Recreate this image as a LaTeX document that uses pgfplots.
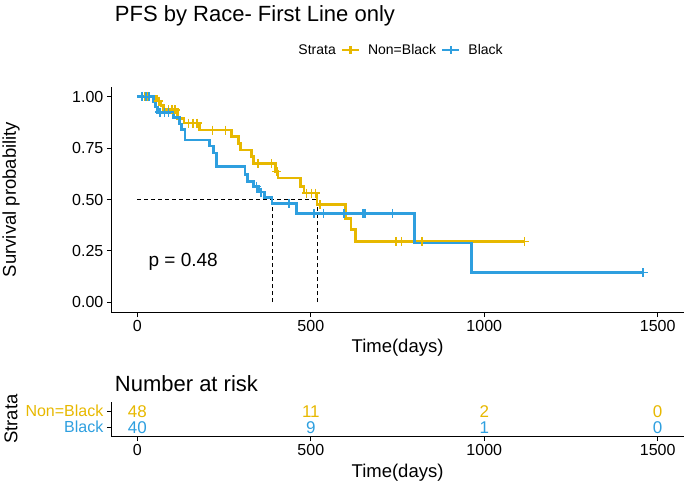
\documentclass[border=0pt]{standalone}
\usepackage{fontspec}
\setmainfont{Liberation Sans}
\usepackage{pgfplots}
\pgfplotsset{compat=1.18}
\definecolor{byellow}{HTML}{E7B800}
\definecolor{bblue}{HTML}{2E9FDF}
\newcommand{\fsz}[1]{\fontsize{#1}{#1}\selectfont}

\pgfplotsset{
  kmbase/.style={
    scale only axis, width=572.3pt,
    xmin=-75, xmax=1575,
    axis x line*=bottom, axis y line*=left,
    axis line style={line width=1.1pt, black},
    tick align=outside, major tick length=4.5pt,
    tick style={line width=1.1pt, black},
    xtick={0,500,1000,1500},
    ticklabel style={font=\fsz{16}},
    /pgf/number format/assume math mode=true,
    /pgf/number format/1000 sep={},
    scaled ticks=false,
    label style={font=\fsz{18.5}},
  },
  km/.style={const plot, mark=none, line width=2.7pt, forget plot},
  cens/.style={only marks, mark=+, mark size=4.5pt, line width=1.6pt, forget plot},
}

\begin{document}
\begin{tikzpicture}
\useasboundingbox (0,0) rectangle (685pt,-484pt);

\node[anchor=base west, font=\fsz{22}] at (111.4pt,-22pt) {PFS by Race- First Line only};

% survival curves
\begin{axis}[kmbase,
  at={(111.4pt,-312.5pt)}, anchor=south west, height=226pt,
  ymin=-0.05, ymax=1.05,
  ytick={0,0.25,0.5,0.75,1}, yticklabels={0.00,0.25,0.50,0.75,1.00},
  xlabel={Time(days)}, ylabel={Survival probability},
  xlabel style={at={(axis description cs:0.5,-0.157)}, anchor=center},
  ylabel style={at={(axis description cs:-0.1754,0.5)}, anchor=center},
  legend style={at={(0.5,1.1615)}, anchor=center, draw=none, fill=none,
    legend columns=-1, font=\fsz{14},
    /tikz/every even column/.append style={column sep=3pt},
    /tikz/every odd column/.append style={column sep=6pt}},
]
\addlegendimage{empty legend}
\addlegendentry{Strata\hspace{6pt}}
\addlegendimage{byellow, line width=2.2pt, mark=+, mark size=4pt}
\addlegendentry{Non=Black}
\addlegendimage{bblue, line width=2.2pt, mark=+, mark size=4pt}
\addlegendentry{Black}

% median lines
\addplot[black, line width=0.8pt, dash pattern=on 4pt off 3pt, forget plot]
  coordinates {(0,0.5) (518,0.5)};
\addplot[black, line width=0.8pt, dash pattern=on 4pt off 3pt, forget plot]
  coordinates {(388,0) (388,0.5)};
\addplot[black, line width=0.8pt, dash pattern=on 4pt off 3pt, forget plot]
  coordinates {(518,0) (518,0.5)};

% Non=Black
\addplot[km, byellow] coordinates {
  (0,1) (55,0.979) (68,0.958) (75,0.937) (115,0.895) (134,0.872)
  (178,0.838) (272,0.806) (291,0.773) (297,0.741) (329,0.709)
  (335,0.676) (399,0.636) (405,0.604) (471,0.563) (480,0.531)
  (518,0.474) (600,0.409) (616,0.353) (628,0.296) (1116,0.296)};
\addplot[cens, byellow] coordinates {
  (14,1) (22,1) (30,1) (62,0.979) (90,0.937) (100,0.937) (109,0.937)
  (147,0.872) (160,0.872) (172,0.872) (216,0.838) (254,0.838)
  (348,0.676) (386,0.676) (402,0.636) (487,0.531) (502,0.531)
  (514,0.531) (527,0.474) (745,0.296) (761,0.296) (820,0.296)
  (1116,0.296)};

% Black
\addplot[km, bblue] coordinates {
  (0,1) (46,0.975) (52,0.95) (58,0.925) (105,0.898) (121,0.868)
  (128,0.84) (137,0.79) (208,0.76) (220,0.727) (229,0.662)
  (310,0.621) (318,0.588) (335,0.564) (349,0.536) (366,0.51)
  (388,0.482) (459,0.432) (798,0.288) (964,0.144) (1458,0.144)};
\addplot[cens, bblue] coordinates {
  (14,1) (25,1) (33,1) (65,0.925) (78,0.925) (90,0.925)
  (343,0.564) (356,0.536) (437,0.482) (509,0.432) (537,0.432)
  (596,0.432) (650,0.432) (657,0.432) (736,0.432) (1458,0.144)};

\node[anchor=west, font=\fsz{19}] at (axis cs:22,0.197) {p = 0.48};
\end{axis}

\node[anchor=base west, font=\fsz{22}] at (111.4pt,-391pt) {Number at risk};

% risk table
\begin{axis}[kmbase,
  at={(111.4pt,-436.7pt)}, anchor=south west, height=35pt,
  ymin=0.4, ymax=2.6, clip=false,
  ytick={1,2},
  yticklabels={\textcolor{bblue}{Black},\textcolor{byellow}{Non=Black}},
  yticklabel style={font=\fsz{16}, inner ysep=0pt},
  xlabel={Time(days)}, ylabel={Strata},
  xlabel style={at={(axis description cs:0.5,-1.04)}, anchor=center},
  ylabel style={at={(axis description cs:-0.1754,0.5)}, anchor=center},
]
\addplot[draw=none, mark=none, nodes near coords, point meta=explicit symbolic,
  every node near coord/.append style={anchor=center, inner sep=0pt, text=byellow, font=\fsz{17}}]
  coordinates {(0,2) [48] (500,2) [11] (1000,2) [2] (1500,2) [0]};
\addplot[draw=none, mark=none, nodes near coords, point meta=explicit symbolic,
  every node near coord/.append style={anchor=center, inner sep=0pt, text=bblue, font=\fsz{17}}]
  coordinates {(0,1) [40] (500,1) [9] (1000,1) [1] (1500,1) [0]};
\end{axis}
\end{tikzpicture}
\end{document}
